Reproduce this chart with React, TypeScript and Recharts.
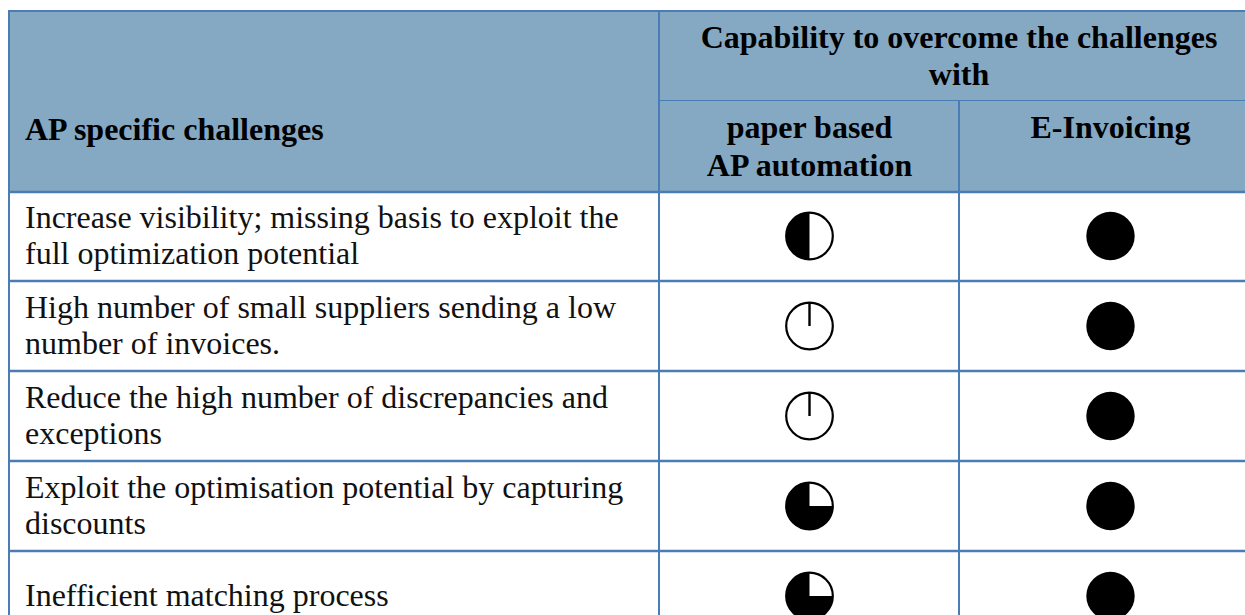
import { Customized, Scatter, ScatterChart, XAxis, YAxis } from 'recharts'

// rows of the table (line breaks as in the source)
const challenges = [
  'Increase visibility; missing basis to exploit the\nfull optimization potential',
  'High number of small suppliers sending a low\nnumber of invoices.',
  'Reduce the high number of discrepancies and\nexceptions',
  'Exploit the optimisation potential by capturing\ndiscounts',
  'Inefficient matching process',
]

const methods = ['paper based\nAP automation', 'E-Invoicing']

// Harvey ball fill, 0 = empty, 1 = full
const paperScores = [0.5, 0, 0, 0.75, 0.75]
const eInvoicingScores = [1, 1, 1, 1, 1]

const rowTitle = 'AP specific challenges'
const groupTitle = ['Capability to overcome the challenges', 'with']

const FONT = '"Liberation Serif", "Times New Roman", serif'
const FS = 32
const BORDER = '#4a7db5'
const HEADER_FILL = '#85a9c3'

// table layout (pixels)
const W = 1265
const H = 645
const LEFT = 8
const TOP = 11
const HEADER_H = 180
const FIRST_COL_W = 651
const ROW_H = 90
const SUB_Y = 100.5
const MID_X = 959

const paperData = challenges.map((challenge, i) => ({ challenge, method: methods[0], value: paperScores[i] }))
const eData = challenges.map((challenge, i) => ({ challenge, method: methods[1], value: eInvoicingScores[i] }))

function HarveyBall(props: any) {
  const { cx, cy, payload } = props
  if (cx == null || cy == null) return null
  const v = payload.value as number
  const r = 23.3
  if (v >= 1) return <circle cx={cx} cy={cy} r={24.2} fill="#000" />
  let wedge = null
  if (v > 0) {
    const t = v * Math.PI * 2
    const ex = cx - r * Math.sin(t)
    const ey = cy - r * Math.cos(t)
    wedge = <path d={`M${cx},${cy} L${cx},${cy - r} A${r},${r} 0 ${v > 0.5 ? 1 : 0} 0 ${ex},${ey} Z`} fill="#000" />
  } else {
    wedge = <line x1={cx} y1={cy - r} x2={cx} y2={cy} stroke="#000" strokeWidth={2.4} />
  }
  return (
    <g>
      <circle cx={cx} cy={cy} r={r} fill="#fff" />
      {wedge}
      <circle cx={cx} cy={cy} r={r} fill="none" stroke="#000" strokeWidth={2.2} />
    </g>
  )
}

function ChallengeTick({ y, payload }: any) {
  const lines = String(payload.value).split('\n')
  const first = y + 10 - (lines.length - 1) * 18
  return (
    <text x={25} y={first} fontFamily={FONT} fontSize={FS} fill="#111" textAnchor="start">
      {lines.map((l, i) => (
        <tspan key={i} x={25} y={first + i * 36}>
          {l}
        </tspan>
      ))}
    </text>
  )
}

function MethodTick({ x, payload }: any) {
  const lines = String(payload.value).split('\n')
  return (
    <text x={x} y={138} fontFamily={FONT} fontSize={FS} fontWeight="bold" fill="#000" textAnchor="middle">
      {lines.map((l, i) => (
        <tspan key={i} x={x} y={138 + i * 38}>
          {l}
        </tspan>
      ))}
    </text>
  )
}

function Frame() {
  const bodyTop = TOP + HEADER_H
  const colX = LEFT + FIRST_COL_W
  const rowLines = challenges.slice(1).map((_, i) => bodyTop + (i + 1) * ROW_H)
  return (
    <g>
      <rect x={LEFT} y={TOP} width={W - LEFT} height={HEADER_H} fill={HEADER_FILL} />
      <text x={25} y={140} fontFamily={FONT} fontSize={FS} fontWeight="bold" fill="#000">
        {rowTitle}
      </text>
      {groupTitle.map((t, i) => (
        <text key={t} x={959} y={48 + i * 37} fontFamily={FONT} fontSize={FS} fontWeight="bold" fill="#000" textAnchor="middle">
          {t}
        </text>
      ))}
      <line x1={LEFT} y1={TOP} x2={W} y2={TOP} stroke={BORDER} strokeWidth={2} />
      <line x1={LEFT + 1} y1={TOP} x2={LEFT + 1} y2={H} stroke={BORDER} strokeWidth={2} />
      <line x1={colX} y1={TOP} x2={colX} y2={H} stroke={BORDER} strokeWidth={2} />
      <line x1={colX} y1={SUB_Y} x2={W} y2={SUB_Y} stroke={BORDER} strokeWidth={1.2} />
      <line x1={MID_X} y1={SUB_Y} x2={MID_X} y2={H} stroke={BORDER} strokeWidth={2} />
      <line x1={LEFT} y1={bodyTop + 1} x2={W} y2={bodyTop + 1} stroke={BORDER} strokeWidth={2.5} />
      {rowLines.map((ly) => (
        <line key={ly} x1={LEFT} y1={ly} x2={W} y2={ly} stroke={BORDER} strokeWidth={2.5} />
      ))}
    </g>
  )
}

export default function App() {
  return (
    <div style={{ position: 'absolute', left: 0, top: 0, width: 1245, height: 615, overflow: 'hidden', background: '#fff' }}>
      <ScatterChart width={W} height={H} margin={{ top: TOP, right: 4, bottom: 4, left: LEFT }}>
        <Customized component={<Frame />} />
        <XAxis
          xAxisId={0}
          type="category"
          dataKey="method"
          orientation="top"
          height={HEADER_H}
          allowDuplicatedCategory={false}
          axisLine={false}
          tickLine={false}
          tick={<MethodTick />}
          interval={0}
        />
        <YAxis
          yAxisId={0}
          type="category"
          dataKey="challenge"
          width={FIRST_COL_W}
          reversed
          allowDuplicatedCategory={false}
          axisLine={false}
          tickLine={false}
          tick={<ChallengeTick />}
          interval={0}
        />
        <Scatter data={paperData} shape={<HarveyBall />} isAnimationActive={false} />
        <Scatter data={eData} shape={<HarveyBall />} isAnimationActive={false} />
      </ScatterChart>
    </div>
  )
}
